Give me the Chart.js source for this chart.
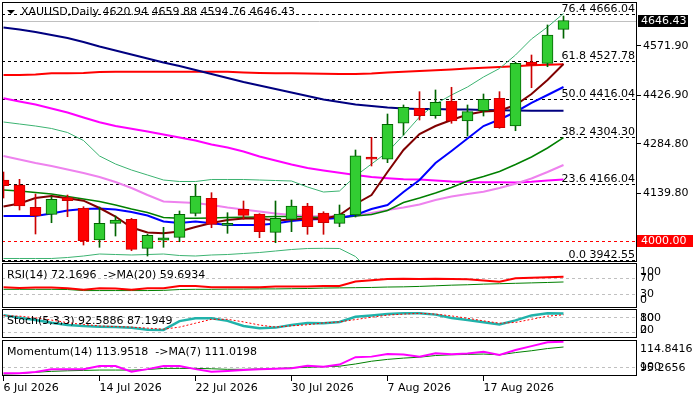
<!DOCTYPE html>
<html>
<head>
<meta charset="utf-8">
<title>XAUUSD Daily</title>
<script src="https://cdn.jsdelivr.net/npm/chart.js@4.4.1/dist/chart.umd.min.js"></script>
<style>
  html, body { margin: 0; padding: 0; background: #fff; }
  #wrap { position: relative; width: 700px; height: 400px; overflow: hidden; }
  #wrap canvas { position: absolute; left: 0; }
</style>
</head>
<body>
<div id="wrap">
  <canvas id="chMain" width="700" height="262" style="top:0"></canvas>
  <canvas id="chRsi" width="700" height="45" style="top:263px"></canvas>
  <canvas id="chStoch" width="700" height="29" style="top:309px"></canvas>
  <canvas id="chMom" width="700" height="60" style="top:340px"></canvas>
</div>
<script>
// daily bars
var dates = ["6 Jul 2026", "7 Jul 2026", "8 Jul 2026", "9 Jul 2026", "10 Jul 2026",
  "13 Jul 2026", "14 Jul 2026", "15 Jul 2026", "16 Jul 2026", "17 Jul 2026",
  "20 Jul 2026", "21 Jul 2026", "22 Jul 2026", "23 Jul 2026", "24 Jul 2026",
  "27 Jul 2026", "28 Jul 2026", "29 Jul 2026", "30 Jul 2026", "31 Jul 2026",
  "3 Aug 2026", "4 Aug 2026", "5 Aug 2026", "6 Aug 2026", "7 Aug 2026",
  "10 Aug 2026", "11 Aug 2026", "12 Aug 2026", "13 Aug 2026", "14 Aug 2026",
  "17 Aug 2026", "18 Aug 2026", "19 Aug 2026", "20 Aug 2026", "21 Aug 2026", "24 Aug 2026"];
var tickBars = [0, 6, 12, 18, 24, 30];

var opens = [4178.0, 4163.3, 4097.8, 4077.2, 4126.0, 4094.8, 4001.6, 4050.7, 4062.5, 3977.2,
  4000.8, 4009.6, 4080.1, 4124.2, 4044.8, 4091.9, 4078.1, 4024.3, 4062.5, 4101.6,
  4081.0, 4050.7, 4075.1, 4245.6, 4238.9, 4344.7, 4388.8, 4367.0, 4410.2, 4351.4,
  4381.7, 4418.2, 4336.7, 4524.9, 4521.0, 4620.94];
var highs = [4201.5, 4180.0, 4136.8, 4128.9, 4133.9, 4099.5, 4098.6, 4072.2, 4065.4, 4018.4,
  4039.0, 4086.9, 4165.4, 4140.7, 4081.9, 4116.3, 4079.0, 4116.3, 4119.2, 4109.5,
  4084.8, 4104.5, 4266.2, 4303.5, 4372.0, 4398.5, 4437.6, 4442.6, 4450.5, 4398.5,
  4430.8, 4437.6, 4524.0, 4545.4, 4633.7, 4659.88];
var lows = [4125.1, 4089.8, 4019.3, 4052.5, 4070.1, 3986.9, 3980.2, 4013.4, 3970.2, 3954.6,
  3980.2, 3996.6, 4072.2, 4037.8, 4021.3, 4062.5, 4008.4, 3993.7, 4026.1, 4018.4,
  4018.4, 4040.7, 4069.2, 4219.2, 4228.9, 4310.3, 4354.4, 4359.4, 4344.7, 4307.3,
  4366.1, 4330.0, 4322.9, 4449.3, 4511.0, 4594.76];
var closes = [4161.3, 4101.6, 4073.1, 4121.3, 4117.2, 3999.6, 4050.7, 4060.4, 3974.3, 4015.5,
  4008.4, 4077.2, 4131.0, 4047.8, 4050.7, 4074.2, 4026.1, 4065.4, 4101.6, 4040.7,
  4052.5, 4078.1, 4248.7, 4238.9, 4341.5, 4391.7, 4367.0, 4406.4, 4351.4, 4378.8,
  4415.2, 4331.8, 4521.0, 4516.1, 4604.2, 4646.43];

// moving averages on the price window
var maNavy = [4626.3, 4620.4, 4613.1, 4604.2, 4595.4, 4583.7, 4570.4, 4558.7, 4546.9, 4535.2,
  4523.4, 4513.1, 4501.4, 4489.6, 4477.8, 4466.1, 4455.8, 4445.5, 4435.2, 4424.9,
  4414.6, 4407.3, 4399.9, 4395.5, 4391.1, 4388.2, 4386.7, 4386.7, 4385.2, 4385.2,
  4383.8, 4382.9, 4382.3, 4381.7, 4381.7, 4381.7];
var maRed = [4486.7, 4486.7, 4488.1, 4491.7, 4491.7, 4492.5, 4495.5, 4496.4, 4496.4, 4496.4,
  4496.4, 4496.4, 4496.4, 4496.4, 4496.4, 4494.0, 4492.5, 4492.0, 4491.7, 4491.1,
  4490.5, 4489.6, 4489.6, 4491.1, 4494.0, 4496.1, 4498.4, 4500.5, 4502.8, 4505.8,
  4507.8, 4510.2, 4512.5, 4515.2, 4516.9, 4518.4];
var maMagenta = [4418.2, 4408.8, 4399.9, 4388.2, 4376.4, 4361.7, 4347.6, 4336.7, 4328.5, 4320.6,
  4311.8, 4302.9, 4294.1, 4282.4, 4273.5, 4261.8, 4247.1, 4235.3, 4223.6, 4213.3,
  4205.9, 4199.5, 4192.7, 4186.8, 4183.0, 4180.1, 4179.5, 4176.5, 4173.6, 4172.1,
  4171.3, 4171.3, 4170.7, 4172.7, 4176.5, 4179.5];
var maViolet = [4248.6, 4238.3, 4228.0, 4219.2, 4208.9, 4198.6, 4186.8, 4172.1, 4154.5, 4133.9,
  4114.8, 4112.4, 4110.4, 4104.5, 4097.2, 4091.3, 4085.4, 4079.5, 4075.1, 4072.2,
  4071.3, 4070.7, 4072.2, 4081.0, 4089.8, 4097.2, 4106.0, 4119.2, 4129.5, 4136.9,
  4143.6, 4154.5, 4166.8, 4182.4, 4201.5, 4222.1];
var maBlue = [4072.2, 4072.2, 4072.2, 4079.5, 4088.4, 4092.8, 4094.2, 4091.3, 4084.0, 4073.7,
  4056.0, 4051.6, 4056.0, 4050.7, 4045.7, 4045.7, 4045.7, 4050.1, 4057.5, 4061.9,
  4063.4, 4066.3, 4075.1, 4092.8, 4104.5, 4142.7, 4178.0, 4228.0, 4263.3, 4300.0,
  4336.7, 4355.9, 4377.9, 4404.4, 4427.9, 4451.4];
var maMaroon = [4100.1, 4108.9, 4125.1, 4131.0, 4124.2, 4117.2, 4095.7, 4070.7, 4038.4, 4023.7,
  4021.3, 4026.6, 4039.8, 4051.6, 4060.4, 4064.8, 4064.8, 4059.0, 4061.9, 4064.8,
  4063.4, 4075.1, 4107.5, 4133.9, 4201.5, 4266.2, 4313.2, 4336.7, 4354.4, 4370.6,
  4379.4, 4381.7, 4398.5, 4430.8, 4472.0, 4519.0];
// bollinger bands
var bbMid = [4148.6, 4145.7, 4141.3, 4136.9, 4129.5, 4122.2, 4114.8, 4104.5, 4092.8, 4082.5,
  4067.8, 4065.4, 4065.4, 4066.3, 4067.8, 4068.4, 4069.3, 4070.7, 4070.7, 4069.3,
  4067.8, 4066.3, 4072.2, 4076.6, 4088.4, 4111.9, 4125.1, 4139.8, 4156.0, 4175.1,
  4188.3, 4203.0, 4223.6, 4245.6, 4272.1, 4302.9];
var bbUpper = [4348.5, 4342.6, 4336.7, 4329.4, 4317.6, 4294.1, 4248.6, 4225.0, 4207.4, 4192.7,
  4178.0, 4173.6, 4173.6, 4179.5, 4179.5, 4179.5, 4178.0, 4176.5, 4175.1, 4157.4,
  4142.7, 4145.7, 4189.8, 4225.0, 4260.3, 4310.3, 4363.2, 4401.4, 4427.9, 4451.4,
  4480.8, 4505.8, 4545.4, 4592.5, 4627.7, 4667.4];
var bbLower = [3947.3, 3947.3, 3947.3, 3947.3, 3950.2, 3954.6, 3960.5, 3959.0, 3957.6, 3959.0,
  3960.5, 3956.1, 3954.6, 3957.6, 3959.0, 3962.0, 3964.9, 3969.3, 3973.7, 3976.7,
  3977.2, 3976.7, 3953.1, 3905.0, 3890.0, 3880.0, 3885.0, 3878.0, 3884.0, 3899.0,
  3896.0, 3900.0, 3902.0, 3899.0, 3916.0, 3938.0];

// fibonacci retracement and horizontal levels
var fibRatios = ["76.4", "61.8", "50.0", "38.2", "23.6", "0.0"];
var fibPrices = [4666.04, 4527.78, 4416.04, 4304.30, 4166.04, 3942.55];
var alertLevel = 4000.00;
var priceTicks = [4139.80, 4284.80, 4426.90, 4571.90];

// oscillators
var rsi = [47, 45, 46.5, 46.5, 44.5, 41, 44.5, 44, 41, 44.5, 44.5, 50, 50, 47, 47, 47, 47, 48.5,
  48.5, 48.5, 50, 50, 61, 64, 67, 67.5, 67, 67.5, 67, 66, 63, 60.5, 68.5, 70, 71, 72.17];
var rsiMa = [42, 42, 42, 42, 41.5, 39, 39, 39, 39, 39, 39.5, 41.5, 42, 42, 42.5, 42.5, 43, 43,
  43.5, 44, 45, 45.5, 46, 46.5, 47.5, 48, 49, 50.5, 52, 53, 54.5, 55.5, 56.5, 57.5, 58.5, 59.69];
var rsiLevels = [70, 30];
var rsiTicks = [100, 70, 30, 0];

var stochK = [86, 76, 67, 57, 48, 44, 41.5, 40, 37.7, 29.5, 29, 63, 74, 73.8, 64, 44, 36, 38,
  48, 56, 55, 60, 80, 85, 90, 93, 93, 88, 75, 67, 58.5, 50.5, 66, 85, 93, 92.59];
var stochD = [84, 82, 76, 67, 57, 50, 44.5, 42, 40, 36, 32, 40, 55, 70, 70, 60, 48, 40,
  45, 49, 56, 60, 69, 78, 86, 90, 93, 90, 83, 74, 64, 55, 58, 70, 82, 87.19];
var stochLevels = [80, 20];
var stochTicks = [100, 80, 20, 0];

var mom = [96.7, 96.7, 97.5, 98.9, 98.9, 98.9, 100.7, 100.7, 97.6, 99, 100.7, 100.7, 99, 97.6,
  98, 98.5, 98.9, 99.2, 99.5, 100.9, 100.3, 101.5, 105.5, 105.8, 107.2, 107, 105.8, 107.6,
  107.1, 107.5, 108.5, 106.7, 109.4, 111.5, 113.6, 113.95];
var momMa = [96.3, 96.6, 97.3, 97.8, 98.1, 98.3, 98.5, 98.5, 98.5, 98.8, 99.4, 99.4, 99.4, 99.2,
  98.9, 98.9, 99.1, 99.3, 99.7, 100, 100.3, 100.6, 101.8, 103.3, 104.3, 105.0, 105.5, 106.4,
  106.8, 107.0, 107.2, 106.8, 108, 109, 110.2, 111.02];
var momMin = 95.2656;
var momMax = 114.8416;
var momLevels = [100];
var momTicks = [momMax, 100, momMin];

Chart.defaults.font.family = "'DejaVu Sans', sans-serif";
Chart.defaults.font.size = 11;
Chart.defaults.color = "#000";
Chart.defaults.animation = false;
Chart.defaults.events = [];
Chart.defaults.plugins.legend.display = false;
Chart.defaults.plugins.tooltip.enabled = false;

var FONT = "11px 'DejaVu Sans', sans-serif";
var last = closes.length - 1;

function pts(values) {
  return values.map(function (v, i) { return { x: i, y: v }; });
}

function lineSet(values, color, width, order, dash) {
  return {
    type: "line", data: pts(values), borderColor: color, borderWidth: width,
    pointRadius: 0, tension: 0, fill: false, order: order, borderDash: dash || []
  };
}

// shared time axis, 16px per bar
function xScale(show) {
  return {
    type: "linear", min: -0.09375, max: 39.59375, offset: false, display: show,
    afterBuildTicks: function (s) { s.ticks = tickBars.map(function (v) { return { value: v }; }); },
    afterFit: function (s) { if (show) s.height = 24; },
    grid: { drawOnChartArea: false, drawTicks: true, tickLength: 5, color: "#000" },
    border: { display: false },
    ticks: {
      align: "start", padding: 1, maxRotation: 0, autoSkip: false,
      callback: function (v) { return dates[v]; }
    }
  };
}

function frame(ctx, a) {
  ctx.save();
  ctx.strokeStyle = "#000";
  ctx.lineWidth = 1;
  ctx.strokeRect(a.left + 0.5, a.top + 0.5, a.right - a.left - 1, a.bottom - a.top - 1);
  ctx.restore();
}

function hline(ctx, a, y, color, dash) {
  y = Math.round(y) + 0.5;
  ctx.beginPath();
  ctx.setLineDash(dash);
  ctx.strokeStyle = color;
  ctx.lineWidth = 1;
  ctx.moveTo(a.left, y);
  ctx.lineTo(a.right, y);
  ctx.stroke();
}

var isUp = function (i) { return closes[i] >= opens[i]; };

/* price window */
var mainLevels = {
  id: "mainLevels",
  beforeDatasetsDraw: function (chart) {
    var ctx = chart.ctx, a = chart.chartArea, y = chart.scales.y;
    ctx.save();
    hline(ctx, a, y.getPixelForValue(closes[last]), "#c0c0c0", []);
    fibPrices.forEach(function (p) { hline(ctx, a, y.getPixelForValue(p), "#000", [3, 3]); });
    hline(ctx, a, y.getPixelForValue(alertLevel), "#ff0000", [3, 3]);
    ctx.restore();
  },
  afterDraw: function (chart) {
    var ctx = chart.ctx, a = chart.chartArea, y = chart.scales.y;
    frame(ctx, a);
    ctx.save();
    ctx.font = FONT;
    ctx.fillStyle = "#000";
    // fib labels
    ctx.textAlign = "right";
    ctx.textBaseline = "alphabetic";
    fibPrices.forEach(function (p, i) {
      ctx.fillText(fibRatios[i] + " " + p.toFixed(2), 635, Math.round(y.getPixelForValue(p)) - 2);
    });
    // title
    ctx.beginPath();
    ctx.moveTo(7, 10); ctx.lineTo(15, 10); ctx.lineTo(11, 14); ctx.closePath();
    ctx.fill();
    ctx.textAlign = "left";
    ctx.textBaseline = "middle";
    ctx.fillText("XAUUSD,Daily " + opens[last].toFixed(2) + " " + highs[last].toFixed(2) + " " +
      lows[last].toFixed(2) + " " + closes[last].toFixed(2), 21, 12);
    // price boxes on the axis
    [[closes[last], "#000", 638, 50], [alertLevel, "#ff0000", 637, 56]].forEach(function (b) {
      var py = Math.round(y.getPixelForValue(b[0]));
      ctx.fillStyle = b[1];
      ctx.fillRect(b[2], py - 6, b[3], 12);
      ctx.fillStyle = "#fff";
      ctx.fillText(b[0].toFixed(2), 641, py);
    });
    ctx.restore();
  }
};

new Chart(document.getElementById("chMain"), {
  type: "line",
  data: {
    datasets: [
      {
        type: "bar", order: 0, grouped: false, barThickness: 11,
        data: dates.map(function (d, i) { return { x: i, y: [opens[i], closes[i]] }; }),
        backgroundColor: function (c) { return isUp(c.dataIndex) ? "#32cd32" : "#ff0000"; },
        borderColor: function (c) { return isUp(c.dataIndex) ? "#006400" : "#cc0000"; },
        borderWidth: 1, borderSkipped: false
      },
      {
        type: "bar", order: 1, grouped: false, barThickness: 1,
        data: dates.map(function (d, i) { return { x: i, y: [lows[i], highs[i]] }; }),
        backgroundColor: function (c) { return isUp(c.dataIndex) ? "#006400" : "#cc0000"; },
        borderWidth: 0
      },
      lineSet(maMaroon, "#800000", 2, 2),
      lineSet(maBlue, "#0000ff", 2, 3),
      lineSet(bbMid, "#008000", 1.5, 4),
      lineSet(bbUpper, "#3cb371", 1, 5),
      lineSet(bbLower, "#3cb371", 1, 6),
      lineSet(maViolet, "#ee82ee", 2, 7),
      lineSet(maMagenta, "#ff00ff", 2, 8),
      lineSet(maNavy, "#000080", 2, 9),
      lineSet(maRed, "#ff0000", 2, 10)
    ]
  },
  options: {
    responsive: false,
    layout: { padding: { left: 2, top: 2, right: 0, bottom: 0 } },
    scales: {
      x: xScale(false),
      y: {
        position: "right", min: 3937.0, max: 4701.2,
        afterBuildTicks: function (s) { s.ticks = priceTicks.map(function (v) { return { value: v }; }); },
        afterFit: function (s) { s.width = 63; s.paddingTop = 0; s.paddingBottom = 0; },
        grid: { drawOnChartArea: false, drawTicks: true, tickLength: 4, color: "#000" },
        border: { display: false },
        ticks: { padding: 2, autoSkip: false, callback: function (v) { return v.toFixed(2); } }
      }
    }
  },
  plugins: [mainLevels]
});

/* indicator windows */
function panelPlugin(levels, ticks, fmt, caption) {
  return {
    id: "panel",
    beforeDatasetsDraw: function (chart) {
      var ctx = chart.ctx, a = chart.chartArea, y = chart.scales.y;
      ctx.save();
      levels.forEach(function (v) { hline(ctx, a, y.getPixelForValue(v), "#c0c0c0", [3, 3]); });
      ctx.restore();
    },
    afterDraw: function (chart) {
      var ctx = chart.ctx, a = chart.chartArea, y = chart.scales.y;
      frame(ctx, a);
      ctx.save();
      ctx.font = FONT;
      ctx.fillStyle = "#000";
      ctx.textBaseline = "middle";
      ctx.textAlign = "left";
      ctx.fillText(caption, 7, a.top + 12);
      ticks.forEach(function (v) {
        var py = Math.min(Math.max(y.getPixelForValue(v), a.top + 9), a.bottom - 8);
        ctx.fillText(fmt(v), 640, py);
      });
      ctx.restore();
    }
  };
}

function subOptions(min, max, showX) {
  return {
    responsive: false,
    layout: { padding: { left: 2, top: 0, right: 63, bottom: 0 } },
    scales: { x: xScale(showX), y: { display: false, min: min, max: max } }
  };
}

new Chart(document.getElementById("chRsi"), {
  type: "line",
  data: { datasets: [lineSet(rsi, "#ff0000", 2, 0), lineSet(rsiMa, "#008000", 1, 1)] },
  options: subOptions(-3, 105.4, false),
  plugins: [panelPlugin(rsiLevels, rsiTicks, String, "RSI(14) 72.1696  ->MA(20) 59.6934")]
});

new Chart(document.getElementById("chStoch"), {
  type: "line",
  data: { datasets: [lineSet(stochK, "#20b2aa", 2.5, 1), lineSet(stochD, "#ff0000", 1, 0, [2, 2])] },
  options: subOptions(-1.9, 109.6, false),
  plugins: [panelPlugin(stochLevels, stochTicks, String, "Stoch(5,3,3) 92.5886 87.1949")]
});

new Chart(document.getElementById("chMom"), {
  type: "line",
  data: { datasets: [lineSet(mom, "#ff00ff", 2, 0), lineSet(momMa, "#008000", 1, 1)] },
  options: subOptions(momMin, momMax, true),
  plugins: [panelPlugin(momLevels, momTicks, function (v) { return v === 100 ? "100" : v.toFixed(4); },
    "Momentum(14) 113.9518  ->MA(7) 111.0198")]
});
</script>
</body>
</html>
